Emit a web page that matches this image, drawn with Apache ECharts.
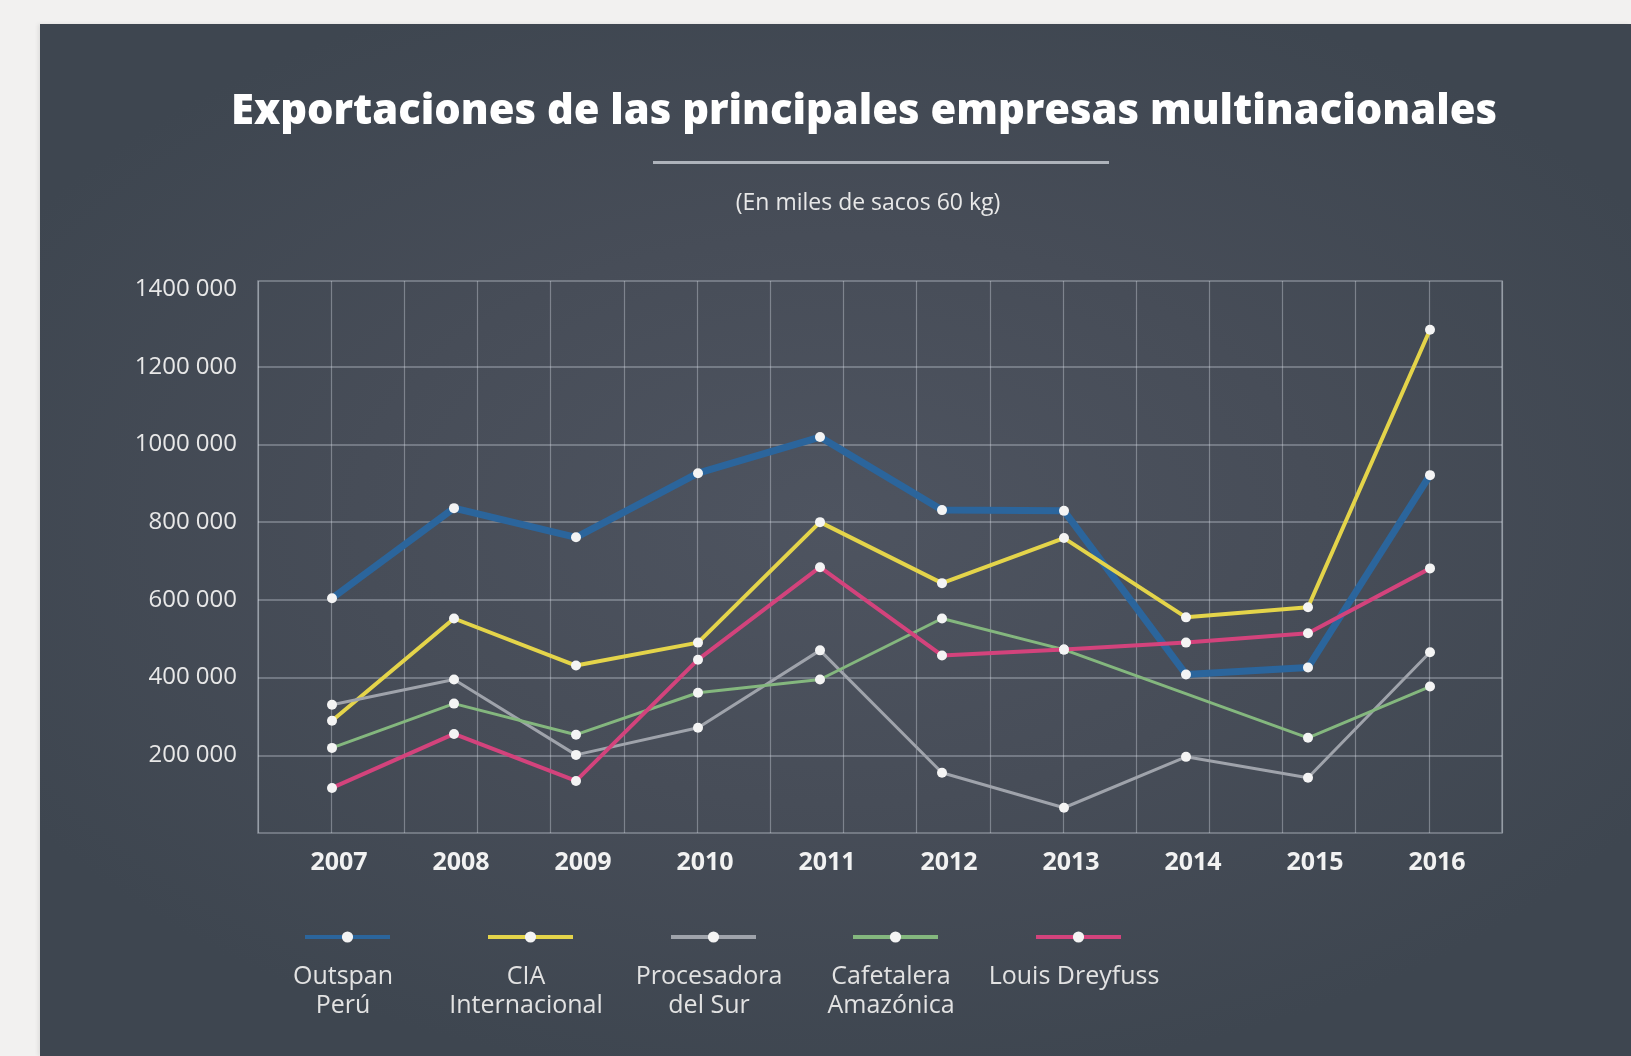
<!DOCTYPE html>
<html>
<head>
<meta charset="utf-8">
<script src="https://cdn.jsdelivr.net/npm/echarts@6/dist/echarts.min.js"></script>
<style>
html,body{margin:0;padding:0;width:1631px;height:1056px;background:#f2f1f0;overflow:hidden;}
.panel{
    position:absolute;left:40px;top:24px;width:1591px;height:1032px;
    background:radial-gradient(ellipse 60% 55% at 50% 48%, #4e5460 0%, #474d58 50%, #3e4650 100%);
    box-shadow:-2px 0 4px rgba(0,0,0,0.08);
}
#chart{position:absolute;left:0;top:0;width:1631px;height:1056px;}
</style>
</head>
<body>
<div class="panel"></div>
<div id="chart"></div>
<script>
// datos
var years = ['2007','2008','2009','2010','2011','2012','2013','2014','2015','2016'];
var empresas = ['Outspan Perú','CIA Internacional','Procesadora del Sur','Cafetalera Amazónica','Louis Dreyfuss'];
var etiquetas = ['Outspan\nPerú','CIA\nInternacional','Procesadora\ndel Sur','Cafetalera\nAmazónica','Louis Dreyfuss'];
var outspan = [604000, 836000, 761000, 926000, 1019000, 831000, 829000, 408000, 426000, 921000];
var cia = [289000, 552000, 431000, 490000, 800000, 643000, 759000, 555000, 581000, 1295000];
var procesadora = [330000, 395000, 201000, 271000, 470000, 155000, 65000, 196000, 142000, 465000];
var cafetalera = [219000, 333000, 253000, 361000, 395000, 552000, 472000, null, 245000, 377000];
var dreyfuss = [116000, 255000, 134000, 446000, 684000, 457000, 472000, 490000, 514000, 681000];

var colores = ['#2b659c', '#e4d44a', '#9fa3ab', '#84b77e', '#d3437c'];
var anchos = [7, 4, 3, 3, 4];
var valores = [outspan, cia, procesadora, cafetalera, dreyfuss];
var legendX = [340, 523, 706, 888, 1071];

var FUENTE = '"Open Sans"';

var myChart = echarts.init(document.getElementById('chart'), null, {renderer:'canvas'});

var series = [];
valores.forEach(function(v, i){
    series.push({
        name: empresas[i],
        type: 'line',
        xAxisIndex: 1,
        yAxisIndex: 1,
        data: v,
        connectNulls: true,
        symbol: 'circle',
        symbolSize: 10,
        showAllSymbol: true,
        lineStyle: { color: colores[i], width: anchos[i] },
        itemStyle: { color: '#f4f4f4', borderWidth: 0 },
        emphasis: { disabled: true },
        z: 3 + i
    });
});

var legends = empresas.map(function(n, i){
    return {
        data: [n],
        left: legendX[i] - 42,
        top: 925,
        itemWidth: 85,
        itemHeight: 14,
        itemGap: 0,
        formatter: function(){ return ''; },
        lineStyle: { width: 4 },
        selectedMode: false
    };
});

var graphics = [
    { type:'text', x: 864, y: 112, style:{ text:'Exportaciones de las principales empresas multinacionales',
        fill:'#ffffff', font:'800 41.7px ' + FUENTE, textAlign:'center', textVerticalAlign:'middle' } },
    { type:'rect', shape:{ x:653, y:161, width:456, height:3 }, style:{ fill:'#aeb3bb' } },
    { type:'text', x: 868, y: 203, style:{ text:'(En miles de sacos 60 kg)',
        fill:'#e8e8e8', font:'23px ' + FUENTE, textAlign:'center', textVerticalAlign:'middle' } }
];
etiquetas.forEach(function(t, i){
    graphics.push({ type:'text', x: legendX[i] + 3, y: 962, style:{ text: t, fill:'#e2e2e2',
        font:'25px ' + FUENTE, lineHeight: 29, textAlign:'center', textVerticalAlign:'top' } });
});

var option = {
    backgroundColor: 'transparent',
    animation: false,
    textStyle: { fontFamily: 'Open Sans' },
    graphic: graphics,
    legend: legends,
    grid: [
        // marco y lineas verticales
        { left:258, right:129, top:281, bottom:223, show:true, borderColor:'rgba(205,210,220,0.45)', borderWidth:1.5 },
        // datos
        { left:271, right:140, top:289, bottom:223 },
        // lineas horizontales y etiquetas del eje y
        { left:258, right:129, top:289, bottom:223 }
    ],
    xAxis: [
        { gridIndex:0, type:'value', min:0, max:17, interval:1,
          axisLine:{show:false}, axisTick:{show:false}, axisLabel:{show:false},
          splitLine:{ show:true, lineStyle:{ color:'rgba(215,220,230,0.38)', width:1.2 } } },
        { gridIndex:1, type:'category', data: years, boundaryGap:true,
          axisLine:{show:false}, axisTick:{show:false}, splitLine:{show:false},
          axisLabel:{ color:'#f2f2f2', fontSize:25, fontWeight:'bold', margin:17, fontFamily:'Open Sans',
                      padding:[0,0,0,14] } },
        { gridIndex:2, type:'value', show:false }
    ],
    yAxis: [
        { gridIndex:0, type:'value', show:false, splitLine:{show:false} },
        { gridIndex:1, type:'value', min:0, max:1400000, show:false, splitLine:{show:false} },
        { gridIndex:2, type:'value', min:0, max:1400000, interval:200000,
          axisLine:{show:false}, axisTick:{show:false},
          splitLine:{ show:true, showMaxLine:false, showMinLine:false,
              lineStyle:{ color:'rgba(215,220,230,0.42)', width:1.5 } },
          axisLabel:{ color:'#e8e8e8', fontSize:24, margin:21, fontFamily:'Open Sans',
            formatter:function(v){
                if (v === 0) return '';
                return Math.floor(v/1000) + ' 000';
            } } }
    ],
    series: series
};
myChart.setOption(option);
window.onresize = myChart.resize;
</script>
</body>
</html>
